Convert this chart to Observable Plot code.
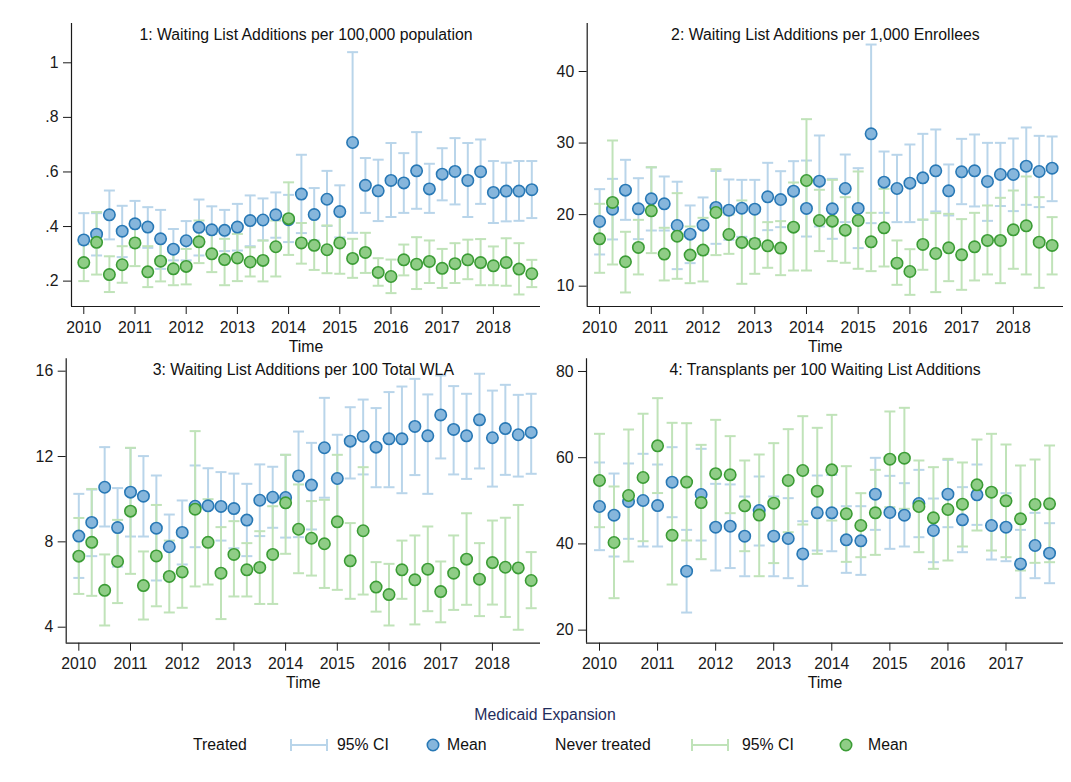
<!DOCTYPE html>
<html>
<head>
<meta charset="utf-8">
<script src="https://cdn.jsdelivr.net/npm/d3@7"></script>
<script src="https://cdn.jsdelivr.net/npm/@observablehq/plot@0.6"></script>
<style>
  body { margin: 0; background: #fff; }
  #chart { position: relative; width: 1071px; height: 782px; background: #fff;
           font-family: "Liberation Sans", Arial, Helvetica, sans-serif; color: #111; }
  .panel { position: absolute; }
  .legend-title { position: absolute; top: 706px; left: 0; width: 1090px; text-align: center;
                  font-size: 15.8px; color: #1f2d5c; }
  .lg { position: absolute; top: 735px; font-size: 15.8px; line-height: 19px; white-space: nowrap; }
  .lg svg { position: absolute; top: 0; left: 0; }
</style>
</head>
<body>
<div id="chart"></div>
<script>
// Quarterly series, 2010Q1 onward
const startYear = 2010;
const groups = ["Treated", "Never treated"];

// 1: Waiting List Additions per 100,000 population
const p1TreatedMean = [0.351,0.372,0.443,0.383,0.410,0.398,0.355,0.317,0.348,0.397,0.388,0.386,0.398,0.422,0.424,0.443,0.425,0.519,0.444,0.500,0.455,0.708,0.551,0.531,0.569,0.560,0.604,0.538,0.592,0.602,0.569,0.601,0.525,0.530,0.530,0.535];
const p1TreatedLo = [0.254,0.294,0.353,0.288,0.324,0.322,0.245,0.276,0.276,0.294,0.310,0.310,0.312,0.328,0.349,0.359,0.343,0.376,0.349,0.402,0.360,0.377,0.450,0.420,0.435,0.450,0.465,0.450,0.496,0.481,0.435,0.483,0.413,0.419,0.421,0.431];
const p1TreatedHi = [0.449,0.449,0.532,0.476,0.494,0.471,0.461,0.391,0.420,0.499,0.474,0.461,0.483,0.514,0.503,0.525,0.516,0.663,0.541,0.604,0.551,1.039,0.651,0.645,0.706,0.669,0.746,0.630,0.687,0.724,0.706,0.719,0.640,0.634,0.640,0.640];
const p1NeverMean = [0.268,0.342,0.224,0.260,0.340,0.234,0.273,0.245,0.254,0.344,0.300,0.279,0.285,0.270,0.276,0.326,0.429,0.340,0.331,0.315,0.340,0.283,0.305,0.232,0.217,0.278,0.262,0.272,0.247,0.264,0.278,0.268,0.256,0.268,0.244,0.227];
const p1NeverLo = [0.200,0.224,0.160,0.194,0.255,0.178,0.199,0.185,0.188,0.266,0.233,0.185,0.200,0.217,0.199,0.217,0.296,0.264,0.241,0.229,0.227,0.212,0.230,0.183,0.156,0.221,0.171,0.193,0.175,0.193,0.207,0.185,0.185,0.183,0.151,0.178];
const p1NeverHi = [0.335,0.453,0.291,0.328,0.422,0.328,0.349,0.312,0.318,0.422,0.373,0.355,0.373,0.324,0.349,0.422,0.562,0.413,0.446,0.404,0.453,0.355,0.377,0.284,0.279,0.334,0.361,0.349,0.318,0.339,0.352,0.354,0.327,0.357,0.339,0.278];

// 2: Waiting List Additions per 1,000 Enrollees
const p2TreatedMean = [19.04,20.76,23.42,20.81,22.21,21.51,18.48,17.27,18.53,21.00,20.62,20.90,20.76,22.49,22.11,23.28,20.86,24.68,20.81,23.65,20.86,31.29,24.54,23.65,24.40,25.14,26.12,23.33,25.98,26.12,24.63,25.61,25.61,26.77,26.03,26.49];
const p2TreatedLo = [14.43,16.53,19.27,16.57,17.78,17.78,12.38,13.22,14.52,15.92,16.48,16.90,16.60,17.83,18.25,18.50,16.94,18.34,16.62,18.95,15.32,18.81,20.25,18.95,18.95,19.27,20.44,19.88,21.46,21.14,19.13,21.20,20.49,21.37,21.05,21.88];
const p2TreatedHi = [23.56,25.00,27.66,25.09,26.60,25.33,24.60,21.28,22.40,26.10,24.91,24.86,24.86,27.24,26.07,27.47,27.56,31.06,25.00,28.40,26.49,43.77,28.82,28.36,29.80,31.29,31.90,27.01,30.59,31.20,30.03,30.03,30.64,32.18,31.01,30.92];
const p2NeverMean = [16.62,21.70,13.41,15.41,20.53,14.48,16.99,14.34,15.04,20.30,17.22,16.11,15.97,15.64,15.32,18.25,24.77,19.18,19.09,17.83,19.18,16.20,18.16,13.22,12.05,15.83,14.57,15.36,14.38,15.50,16.39,16.39,17.88,18.44,16.15,15.69];
const p2NeverLo = [11.87,13.03,9.12,11.64,14.62,10.80,11.03,10.42,10.66,14.34,14.52,10.33,11.73,12.57,11.54,12.19,12.19,14.90,13.50,13.27,12.43,12.10,12.75,10.19,8.79,12.29,9.17,10.70,9.49,10.80,11.64,10.42,12.43,11.64,9.77,11.64];
const p2NeverHi = [21.51,30.36,17.60,19.27,26.63,18.16,23.00,18.34,19.55,26.35,20.00,21.98,20.80,18.95,19.09,24.49,33.34,23.47,24.86,22.44,26.03,20.25,23.61,16.39,15.17,19.32,20.21,20.11,19.37,20.25,21.28,22.35,23.37,25.33,22.44,19.65];

// 3: Waiting List Additions per 100 Total WLA
const p3TreatedMean = [8.27,8.91,10.56,8.67,10.33,10.14,8.64,7.77,8.44,9.67,9.69,9.66,9.56,9.02,9.95,10.09,10.08,11.09,10.66,12.41,10.97,12.72,12.95,12.44,12.83,12.83,13.41,12.97,13.95,13.27,12.97,13.72,12.88,13.31,13.02,13.13];
const p3TreatedLo = [6.31,7.33,8.72,6.84,8.25,8.25,6.19,6.26,6.94,7.75,7.95,8.06,7.70,7.33,8.27,8.66,8.20,8.22,8.58,10.07,8.92,10.97,11.16,10.56,10.56,10.28,11.13,10.25,11.91,11.16,10.95,11.44,10.59,11.14,11.06,11.19];
const p3TreatedHi = [10.25,10.45,12.44,10.52,12.40,12.02,11.11,9.28,9.94,11.58,11.45,11.27,11.20,10.72,11.63,11.52,12.08,13.17,12.64,14.75,13.02,14.31,14.67,14.27,15.02,15.28,15.64,14.91,15.80,15.30,14.94,15.88,15.09,15.36,14.89,14.94];
const p3NeverMean = [7.33,7.98,5.73,7.08,9.44,5.95,7.34,6.38,6.59,9.53,7.98,6.53,7.41,6.69,6.80,7.41,9.83,8.59,8.17,7.91,8.94,7.11,8.52,5.88,5.53,6.69,6.22,6.72,5.67,6.53,7.19,6.25,7.03,6.81,6.78,6.19];
const p3NeverLo = [5.56,5.47,4.08,5.13,6.50,4.36,4.98,4.69,4.91,5.91,6.00,4.38,5.44,5.44,5.09,5.09,7.44,6.53,6.42,5.84,5.75,5.33,5.53,4.73,4.08,5.33,4.13,4.75,4.23,4.81,5.05,4.52,5.06,4.48,3.88,4.89];
const p3NeverHi = [9.12,10.48,7.41,9.03,12.41,7.55,9.73,8.06,8.27,13.19,10.00,8.69,8.97,7.94,8.50,9.67,12.08,10.69,9.91,9.97,12.08,8.88,11.50,7.05,6.97,8.06,8.30,8.72,7.08,8.30,9.34,7.94,9.00,9.13,9.73,7.52];

// 4: Transplants per 100 Waiting List Additions (through 2017Q4)
const p4TreatedMean = [48.68,46.67,49.84,50.07,48.90,54.32,33.67,51.46,43.88,44.11,41.79,47.75,41.79,41.25,37.69,47.21,47.21,40.94,40.71,51.54,47.29,46.67,49.37,43.11,51.54,45.58,51.38,44.27,43.88,35.37,39.63,37.85];
const p4TreatedLo = [38.55,37.08,41.18,39.40,39.40,46.20,24.08,40.79,33.83,34.40,32.50,39.63,32.50,32.05,30.27,38.47,38.30,33.29,32.82,43.26,38.86,39.40,41.56,35.76,43.88,38.08,44.42,36.38,35.99,27.49,32.05,30.89];
const p4TreatedHi = [58.89,56.33,58.66,60.90,58.42,62.44,43.26,62.06,53.94,53.80,51.00,55.64,51.00,50.61,45.27,55.87,56.00,48.75,48.75,59.97,55.79,54.09,57.18,50.53,59.50,53.17,58.42,51.62,51.77,43.26,47.21,44.81];
const p4NeverMean = [54.71,40.33,51.23,55.41,62.75,42.00,54.35,49.60,56.30,56.03,48.83,46.70,49.45,54.71,57.03,52.23,57.18,46.98,44.27,47.21,59.66,59.89,48.68,46.05,47.98,49.22,53.70,52.00,49.99,45.82,49.14,49.30];
const p4NeverLo = [43.88,27.41,35.92,40.63,51.80,30.58,40.80,36.46,43.90,47.13,38.31,32.51,35.55,42.72,44.50,37.69,45.42,35.84,36.92,37.46,48.52,48.14,38.08,34.22,36.15,39.40,43.11,38.47,36.92,33.83,35.61,35.76];
const p4NeverHi = [65.54,53.32,66.54,70.20,73.81,68.09,68.00,62.98,68.78,65.00,59.35,60.74,63.37,66.62,69.63,66.93,69.94,58.03,51.77,57.18,70.72,71.57,59.35,57.80,59.74,58.89,64.22,65.54,63.06,58.19,59.58,62.83];

const yearTicks9 = [2010, 2011, 2012, 2013, 2014, 2015, 2016, 2017, 2018];
const yearTicks8 = [2010, 2011, 2012, 2013, 2014, 2015, 2016, 2017];

const colors = {
  "Treated": { fill: "#86b6dc", stroke: "#2878b5", ci: "#b9d5ea" },
  "Never treated": { fill: "#8fcd86", stroke: "#3b9c35", ci: "#c0e3b9" }
};
const font = '"Liberation Sans", Arial, Helvetica, sans-serif';
const fs = 15.8;

// horizontal bar used as the end cap of each confidence interval
const capSymbol = {
  draw(ctx, size) {
    const w = Math.sqrt(size / Math.PI);
    ctx.moveTo(-w, 0);
    ctx.lineTo(w, 0);
  }
};

function series(mean, lo, hi) {
  return mean.map((m, i) => ({ t: startYear + i / 4, mean: m, lo: lo[i], hi: hi[i] }));
}

function panel(cfg) {
  const sets = [series(...cfg.treated), series(...cfg.never)];
  const ciMarks = [];
  const dotMarks = [];
  sets.forEach((rows, k) => {
    const c = colors[groups[k]];
    ciMarks.push(
      Plot.ruleX(rows, { x: "t", y1: "lo", y2: "hi", stroke: c.ci, strokeWidth: 2 }),
      Plot.dot(rows, { x: "t", y: "lo", symbol: capSymbol, r: 5.5, fill: "none", stroke: c.ci, strokeWidth: 2 }),
      Plot.dot(rows, { x: "t", y: "hi", symbol: capSymbol, r: 5.5, fill: "none", stroke: c.ci, strokeWidth: 2 })
    );
    dotMarks.push(
      Plot.dot(rows, { x: "t", y: "mean", r: 5.7, fill: c.fill, stroke: c.stroke, strokeWidth: 1.6 })
    );
  });
  const chart = Plot.plot({
    width: cfg.width,
    height: cfg.height,
    marginLeft: cfg.margin[3],
    marginRight: cfg.margin[1],
    marginTop: cfg.margin[0],
    marginBottom: cfg.margin[2],
    style: { fontFamily: font, fontSize: fs + "px", background: "transparent", color: "#1a1a1a", overflow: "visible" },
    x: { domain: cfg.xDomain, label: null },
    y: { domain: cfg.yDomain, label: null },
    marks: [
      Plot.axisX({ ticks: cfg.xTicks, tickFormat: d => String(d), tickSize: 8, tickPadding: 7, label: null, fontSize: fs }),
      Plot.axisY({ ticks: cfg.yTicks, tickFormat: cfg.yFormat, tickSize: 8, tickPadding: 5, label: null, fontSize: fs }),
      Plot.ruleX([cfg.xDomain[0]], { stroke: "#1a1a1a", strokeWidth: 1.2 }),
      Plot.ruleY([cfg.yDomain[0]], { stroke: "#1a1a1a", strokeWidth: 1.2 }),
      ...ciMarks,
      ...dotMarks,
      Plot.text([cfg.title], { text: d => d, frameAnchor: "top", dy: 11, lineAnchor: "middle", fontSize: fs, fill: "#111" }),
      Plot.text(["Time"], { text: d => d, frameAnchor: "bottom", dy: 40, lineAnchor: "middle", fontSize: fs, fill: "#111" })
    ]
  });
  const wrap = document.createElement("div");
  wrap.className = "panel";
  wrap.style.left = cfg.left + "px";
  wrap.style.top = cfg.top + "px";
  wrap.appendChild(chart);
  return wrap;
}

const fmtDecimal = d => (d === 1 ? "1" : d3.format(".1f")(d).replace(/^0/, ""));
const fmtInt = d => String(d);

const root = document.getElementById("chart");

root.appendChild(panel({
  title: "1: Waiting List Additions per 100,000 population",
  treated: [p1TreatedMean, p1TreatedLo, p1TreatedHi],
  never: [p1NeverMean, p1NeverLo, p1NeverHi],
  xDomain: [2009.76, 2018.92], yDomain: [0.107, 1.144],
  xTicks: yearTicks9, yTicks: [0.2, 0.4, 0.6, 0.8, 1], yFormat: fmtDecimal,
  left: 0, top: 0, width: 545, height: 355, margin: [23, 5, 49, 71]
}));

root.appendChild(panel({
  title: "2: Waiting List Additions per 1,000 Enrollees",
  treated: [p2TreatedMean, p2TreatedLo, p2TreatedHi],
  never: [p2NeverMean, p2NeverLo, p2NeverHi],
  xDomain: [2009.76, 2018.97], yDomain: [7.16, 46.71],
  xTicks: yearTicks9, yTicks: [10, 20, 30, 40], yFormat: fmtInt,
  left: 540, top: 0, width: 531, height: 355, margin: [23, 8, 49, 46.7]
}));

root.appendChild(panel({
  title: "3: Waiting List Additions per 100 Total WLA",
  treated: [p3TreatedMean, p3TreatedLo, p3TreatedHi],
  never: [p3NeverMean, p3NeverLo, p3NeverHi],
  xDomain: [2009.756, 2018.93], yDomain: [3.25, 16.58],
  xTicks: yearTicks9, yTicks: [4, 8, 12, 16], yFormat: fmtInt,
  left: 0, top: 335, width: 545, height: 365, margin: [23.3, 5, 57.3, 65.7]
}));

root.appendChild(panel({
  title: "4: Transplants per 100 Waiting List Additions",
  treated: [p4TreatedMean, p4TreatedLo, p4TreatedHi],
  never: [p4NeverMean, p4NeverLo, p4NeverHi],
  xDomain: [2009.776, 2017.99], yDomain: [16.97, 82.94],
  xTicks: yearTicks8, yTicks: [20, 40, 60, 80], yFormat: fmtInt,
  left: 540, top: 335, width: 531, height: 365, margin: [23.3, 8, 57.3, 46]
}));

// Legend
const legendTitle = document.createElement("div");
legendTitle.className = "legend-title";
legendTitle.textContent = "Medicaid Expansion";
root.appendChild(legendTitle);

function ciKey(c) {
  return `<svg width="40" height="19"><g stroke="${c.ci}" stroke-width="2" fill="none">
    <line x1="2" y1="10" x2="38" y2="10"/><line x1="2" y1="4" x2="2" y2="16"/><line x1="38" y1="4" x2="38" y2="16"/></g></svg>`;
}
function dotKey(c) {
  return `<svg width="14" height="19"><circle cx="7" cy="10" r="5.7" fill="${c.fill}" stroke="${c.stroke}" stroke-width="1.6"/></svg>`;
}
function legendItem(left, html, width) {
  const d = document.createElement("div");
  d.className = "lg";
  d.style.left = left + "px";
  if (width) { d.style.width = width + "px"; d.style.height = "19px"; }
  d.innerHTML = html;
  root.appendChild(d);
}
const tC = colors["Treated"], nC = colors["Never treated"];
legendItem(193, groups[0]);
legendItem(289, ciKey(tC), 40);
legendItem(337, "95% CI");
legendItem(426, dotKey(tC), 14);
legendItem(447, "Mean");
legendItem(555, groups[1]);
legendItem(690, ciKey(nC), 40);
legendItem(742, "95% CI");
legendItem(839, dotKey(nC), 14);
legendItem(868, "Mean");
</script>
</body>
</html>
